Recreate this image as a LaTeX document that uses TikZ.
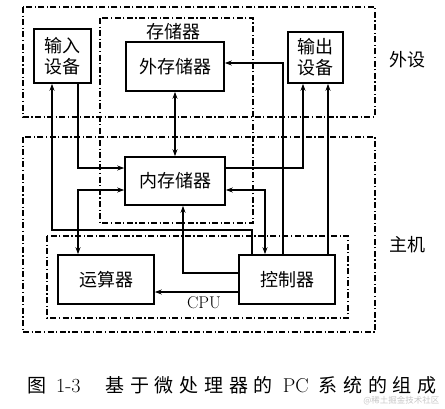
\documentclass[tikz,border=0pt]{standalone}
\usepackage{fontspec}
\newfontfamily\cjk{Noto Sans CJK SC}
\newfontfamily\cjkcap[LetterSpace=30]{Noto Sans CJK SC}
\usetikzlibrary{arrows.meta,positioning}

\tikzset{
  blockbox/.style={draw, line width=1.6pt, inner sep=0pt, align=center,
    font=\cjk\fontsize{18}{21}\selectfont},
  regionline/.style={line width=1.3pt, dash pattern=on 6pt off 2.5pt on 1.2pt off 2.5pt},
  arr/.style={line width=1.3pt, -{Stealth[length=7pt,width=5pt]}},
  darr/.style={line width=1.3pt, {Stealth[length=7pt,width=5pt]}-{Stealth[length=7pt,width=5pt]}},
  zonelabel/.style={font=\cjk\fontsize{18}{21}\selectfont}
}
\newcommand{\capcjk}[1]{{\cjkcap\fontsize{19}{22}\selectfont #1}}

\begin{document}
\begin{tikzpicture}[x=1pt,y=-1pt]
\useasboundingbox (0,0) rectangle (445,408);

% Regions (dash-dot frames)
\draw[regionline] (23,7) rectangle (375,117);
\draw[regionline] (23,137) rectangle (375,332);
\draw[regionline] (100,18) rectangle (253,223);
\draw[regionline] (47,236) rectangle (348,318);

\node[zonelabel] (periph) at (407,60) {外设};
\node[zonelabel] (host) at (407,245) {主机};
\node[zonelabel] (storage) at (173,32) {存储器};
\node[font=\fontsize{17}{20}\selectfont] (cpu) at (204,303) {CPU};

% Units
\node[blockbox, minimum width=57pt, minimum height=54pt] (input) at (62.5,56) {输入\\设备};
\node[blockbox, minimum width=98pt, minimum height=49pt] (extmem) at (175,66.5) {外存储器};
\node[blockbox, minimum width=55pt, minimum height=51pt] (output) at (315.5,57.5) {输出\\设备};
\node[blockbox, minimum width=100pt, minimum height=48pt] (mainmem) at (175,181) {内存储器};
\node[blockbox, minimum width=96pt, minimum height=49pt] (alu) at (106,279.5) {运算器};
\node[blockbox, minimum width=96pt, minimum height=49pt] (ctrl) at (287,279.5) {控制器};

% Data paths
\draw[arr] ([xshift=15.5pt]input.south) |- ([yshift=13pt]mainmem.west);
\draw[darr] (mainmem.north) -- (extmem.south);
\draw[arr] ([yshift=13pt]mainmem.east) -| ([xshift=-12.5pt]output.south);
\draw[darr] ([yshift=-9pt]mainmem.west) -| ([xshift=-28pt]alu.north);
\draw[darr] ([yshift=-9pt]mainmem.east) -| ([xshift=-22pt]ctrl.north);

% Control paths
\coordinate (ctlbus) at (150,230);
\draw[arr] ([xshift=-35pt]ctrl.north) |- (ctlbus) -| ([xshift=-10.5pt]input.south);
\draw[arr] ([xshift=-4pt]ctrl.north) |- ([yshift=3.5pt]extmem.east);
\draw[arr] ([xshift=41pt]ctrl.north) -- ([xshift=41pt]ctrl.north |- output.south);
\draw[arr] ([yshift=6.5pt]ctrl.west) -| ([xshift=8pt]mainmem.south);
\draw[arr] ([yshift=-12.5pt]ctrl.west) -- ([yshift=-12.5pt]ctrl.west -| alu.east);

% Caption
\node[anchor=west, inner sep=0pt, font=\fontsize{20}{24}\selectfont] (caption) at (27,385)
  {\capcjk{图}\hspace{10pt}1-3\hspace{25pt}\capcjk{基于微处理器的}\hspace{10pt}PC\hspace{10pt}\capcjk{系统的组成}};
\node[anchor=east, text=gray!45, font=\cjk\fontsize{8.5}{10}\selectfont] (mark) at (443,401) {@稀土掘金技术社区};

\end{tikzpicture}
\end{document}
